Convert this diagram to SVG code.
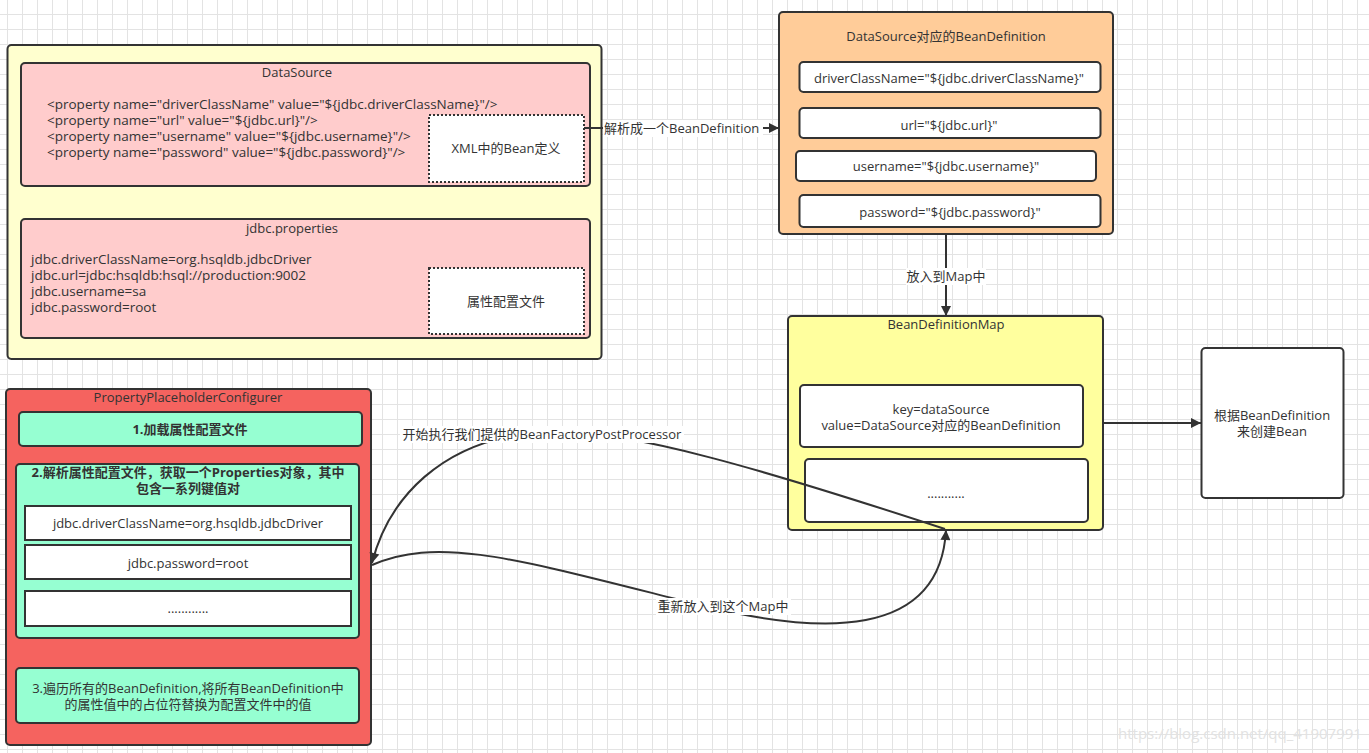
<svg xmlns="http://www.w3.org/2000/svg" width="1369" height="753" viewBox="0 0 1369 753">
<defs>
<pattern id="grid" x="7" y="14" width="15" height="15" patternUnits="userSpaceOnUse">
<path d="M0.5 0V15M0 0.5H15" stroke="#e3e3e3" stroke-width="1" fill="none"/>
</pattern>
<marker id="arr" viewBox="0 0 10 10" refX="10" refY="5" markerWidth="15" markerHeight="10" markerUnits="userSpaceOnUse" orient="auto">
<path d="M0,0L10,5L0,10z" fill="#333"/>
</marker>
<style>
text{font-family:"Open Sans","Noto Sans CJK SC",sans-serif;font-size:13px;fill:#333;dominant-baseline:central}
.c{text-anchor:middle}
.b{font-weight:bold}
.l{font-size:13.5px}
.box{stroke:#333;stroke-width:2}
.dot{fill:#fff;stroke:#333;stroke-width:2;stroke-dasharray:2 2}
.w{fill:#fff}
.conn{fill:none;stroke:#333;stroke-width:2}
.lbl{fill:#fff}
</style>
</defs>
<rect width="1369" height="753" fill="#fff"/>
<rect width="1369" height="753" fill="url(#grid)"/>

<g id="xml-container">
<rect class="box" x="7.5" y="45" width="594" height="314" rx="4" fill="#ffffcf"/>
</g>
<g id="datasource">
<rect class="box" x="21" y="63" width="569" height="123" rx="4" fill="#ffcccc"/>
<text class="c" x="297" y="72">DataSource</text>
<text class="l" x="47" y="103.5">&lt;property name="driverClassName" value="${jdbc.driverClassName}"/&gt;</text>
<text class="l" x="47" y="119.5">&lt;property name="url" value="${jdbc.url}"/&gt;</text>
<text class="l" x="47" y="135.5">&lt;property name="username" value="${jdbc.username}"/&gt;</text>
<text class="l" x="47" y="151.5">&lt;property name="password" value="${jdbc.password}"/&gt;</text>
</g>
<g id="xml-bean-def">
<rect class="dot" x="429" y="115" width="155" height="67"/>
<text class="c" x="506" y="148">XML中的Bean定义</text>
</g>
<g id="jdbc-properties">
<rect class="box" x="21" y="219" width="569" height="119" rx="4" fill="#ffcccc"/>
<text class="c" x="292" y="228">jdbc.properties</text>
<text class="l" x="31" y="259">jdbc.driverClassName=org.hsqldb.jdbcDriver</text>
<text class="l" x="31" y="275">jdbc.url=jdbc:hsqldb:hsql://production:9002</text>
<text class="l" x="31" y="291">jdbc.username=sa</text>
<text class="l" x="31" y="307">jdbc.password=root</text>
</g>
<g id="prop-file">
<rect class="dot" x="429" y="268" width="155" height="66"/>
<text class="c" x="506" y="301">属性配置文件</text>
</g>

<g id="bean-definition">
<rect class="box" x="779" y="12" width="334" height="222" rx="4" fill="#ffcc99"/>
<text class="c" x="946" y="36">DataSource对应的BeanDefinition</text>
<rect class="box w" x="799.5" y="62" width="301" height="30" rx="4"/>
<text class="c" x="949" y="78">driverClassName="${jdbc.driverClassName}"</text>
<rect class="box w" x="799.5" y="108" width="301" height="30" rx="4"/>
<text class="c" x="949" y="125">url="${jdbc.url}"</text>
<rect class="box w" x="796" y="151" width="300" height="30" rx="4"/>
<text class="c" x="946" y="166">username="${jdbc.username}"</text>
<rect class="box w" x="799.5" y="195" width="301" height="32" rx="4"/>
<text class="c" x="950" y="212">password="${jdbc.password}"</text>
</g>

<g id="bean-definition-map">
<rect class="box" x="788" y="316" width="315" height="214" rx="4" fill="#ffff9e"/>
<text class="c" x="946" y="324">BeanDefinitionMap</text>
<rect class="box w" x="800" y="385" width="283" height="62" rx="4"/>
<text class="c" x="941" y="409">key=dataSource</text>
<text class="c" x="941" y="425">value=DataSource对应的BeanDefinition</text>
<rect class="box w" x="805" y="459" width="283" height="63" rx="4"/>
<text class="c" x="946" y="493">...........</text>
</g>

<g id="create-bean">
<rect class="box w" x="1201.5" y="348" width="142" height="150" rx="4"/>
<text class="c" x="1272" y="415">根据BeanDefinition</text>
<text class="c" x="1272" y="431">来创建Bean</text>
</g>

<g id="ppc">
<rect class="box" x="6" y="389" width="365" height="356" rx="4" fill="#f5635f"/>
<text class="c" x="188" y="397">PropertyPlaceholderConfigurer</text>
</g>
<g id="step1">
<rect class="box" x="19" y="412" width="343" height="34" rx="4" fill="#96ffd2"/>
<text class="c b" x="190" y="429">1.加载属性配置文件</text>
</g>
<g id="step2">
<rect class="box" x="16" y="464" width="343" height="174" rx="4" fill="#96ffd2"/>
<text class="c b" x="188" y="472">2.解析属性配置文件，获取一个Properties对象，其中</text>
<text class="c b" x="188" y="488">包含一系列键值对</text>
<rect class="box w" x="25" y="506" width="326" height="34"/>
<text class="c" x="188" y="523">jdbc.driverClassName=org.hsqldb.jdbcDriver</text>
<rect class="box w" x="25" y="545" width="326" height="34"/>
<text class="c" x="188" y="563">jdbc.password=root</text>
<rect class="box w" x="25" y="591" width="326" height="35"/>
<text class="c" x="188" y="608">............</text>
</g>
<g id="step3">
<rect class="box" x="16" y="668" width="343" height="55" rx="4" fill="#96ffd2"/>
<text class="c" x="188" y="687.5">3.遍历所有的BeanDefinition,将所有BeanDefinition中</text>
<text class="c" x="188" y="704">的属性值中的占位符替换为配置文件中的值</text>
</g>

<g id="connectors">
<path class="conn" d="M584,128H779" marker-end="url(#arr)"/>
<rect class="lbl" x="603" y="120" width="160" height="17"/>
<text x="604" y="128">解析成一个BeanDefinition</text>

<path class="conn" d="M946,234V316" marker-end="url(#arr)"/>
<rect class="lbl" x="906" y="268" width="80" height="17"/>
<text class="c" x="946" y="276">放入到Map中</text>

<path class="conn" d="M1103,423H1201" marker-end="url(#arr)"/>

<path class="conn" d="M945,529C780,475 620,425 540,432C440,440 388,500 372,563" marker-end="url(#arr)"/>
<rect class="lbl" x="400" y="426" width="284" height="17"/>
<text class="c" x="542" y="434">开始执行我们提供的BeanFactoryPostProcessor</text>

<path class="conn" d="M372,565C440,535 520,560 700,605C820,635 940,640 946,530" marker-end="url(#arr)"/>
<rect class="lbl" x="656" y="598" width="135" height="17"/>
<text class="c" x="723" y="606">重新放入到这个Map中</text>
</g>
<text x="1118" y="733" style="font-size:15px;fill:#e2e2e2">https://blog.csdn.net/qq_41907991</text>
</svg>
